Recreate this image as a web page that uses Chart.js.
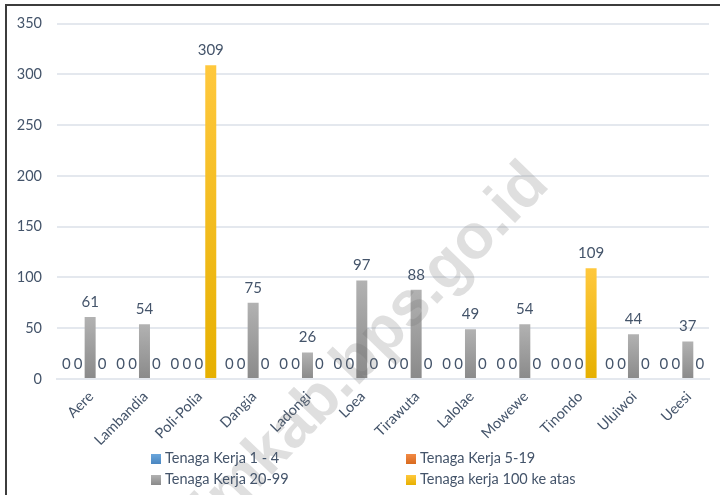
<!DOCTYPE html>
<html>
<head>
<meta charset="utf-8">
<script src="https://cdn.jsdelivr.net/npm/chart.js@4"></script>
<style>
  html, body { margin: 0; padding: 0; background: #fff; }
  #wrap { position: relative; width: 720px; height: 495px; overflow: hidden; font-family: Lato, "Noto Sans", sans-serif; }
  #frame { position: absolute; left: 5px; top: 4px; right: -2px; bottom: -2px; border-top: 2px solid #3c3c3c; border-left: 2px solid #3c3c3c; pointer-events: none; }
  .lg { position: absolute; font-size: 14.5px; color: #44546a; line-height: 16px; white-space: nowrap; }
  .lg i { display: inline-block; width: 10px; height: 10px; margin-right: 4px; vertical-align: -1px; }
</style>
</head>
<body>
<div id="wrap">
  <canvas id="chart" width="720" height="495"></canvas>
  <div id="frame"></div>
  <div id="legend"></div>
</div>
<script>
// data
const categories = ['Aere', 'Lambandia', 'Poli-Polia', 'Dangia', 'Ladongi', 'Loea', 'Tirawuta', 'Lalolae', 'Mowewe', 'Tinondo', 'Uluiwoi', 'Ueesi'];
const seriesNames = ['Tenaga Kerja 1 - 4', 'Tenaga Kerja 5-19', 'Tenaga Kerja 20-99', 'Tenaga kerja 100 ke atas'];
const kerja1to4 = [0, 0, 0, 0, 0, 0, 0, 0, 0, 0, 0, 0];
const kerja5to19 = [0, 0, 0, 0, 0, 0, 0, 0, 0, 0, 0, 0];
const kerja20to99 = [61, 54, 0, 75, 26, 97, 88, 49, 54, 0, 44, 37];
const kerja100up = [0, 0, 309, 0, 0, 0, 0, 0, 0, 109, 0, 0];
const yTicks = [0, 50, 100, 150, 200, 250, 300, 350];

const textColor = '#44546a';
const colorStops = [
  ['#6aa6dc', '#4a86c0'],
  ['#f28a45', '#d86a1e'],
  ['#b2b2b2', '#8a8a8a'],
  ['#ffc83d', '#e6b000']
];

function barGradient(idx) {
  return function(ctx) {
    const chart = ctx.chart;
    const area = chart.chartArea;
    const y = chart.scales.y;
    if (!area || !y || ctx.parsed === undefined) return colorStops[idx][0];
    const top = y.getPixelForValue(ctx.parsed.y);
    const bottom = y.getPixelForValue(0);
    if (bottom - top < 1) return colorStops[idx][0];
    const g = chart.ctx.createLinearGradient(0, top, 0, bottom);
    g.addColorStop(0, colorStops[idx][0]);
    g.addColorStop(1, colorStops[idx][1]);
    return g;
  };
}

const valueLabels = {
  id: 'valueLabels',
  afterDatasetsDraw(chart) {
    const c = chart.ctx;
    c.save();
    c.font = '15px Lato, "Noto Sans", sans-serif';
    c.fillStyle = textColor;
    c.textAlign = 'center';
    c.textBaseline = 'middle';
    chart.data.datasets.forEach((ds, i) => {
      chart.getDatasetMeta(i).data.forEach((bar, j) => {
        c.fillText(String(ds.data[j]), bar.x, bar.y - 15);
      });
    });
    c.restore();
  }
};

const watermark = {
  id: 'watermark',
  afterDraw(chart) {
    const c = chart.ctx;
    c.save();
    c.translate(551, 186);
    c.rotate(-46 * Math.PI / 180);
    c.font = 'bold 63px "Liberation Sans", Arial, sans-serif';
    c.fillStyle = 'rgba(110,110,110,0.22)';
    c.textAlign = 'right';
    c.textBaseline = 'alphabetic';
    c.fillText('koltimkab.bps.go.id', 0, 0);
    c.restore();
  }
};

const seriesData = [kerja1to4, kerja5to19, kerja20to99, kerja100up];

new Chart(document.getElementById('chart'), {
  type: 'bar',
  data: {
    labels: categories,
    datasets: seriesData.map((d, i) => ({
      label: seriesNames[i],
      data: d,
      backgroundColor: barGradient(i),
      borderWidth: 0,
      categoryPercentage: 0.88,
      barPercentage: 0.92
    }))
  },
  options: {
    responsive: false,
    animation: false,
    layout: { padding: { top: 23, right: 11, left: 0, bottom: 0 } },
    plugins: {
      legend: { display: false },
      tooltip: { enabled: false }
    },
    scales: {
      x: {
        grid: { display: false, drawTicks: false },
        border: { display: true, color: '#e4e8ee', width: 2 },
        ticks: {
          color: textColor,
          font: { family: 'Lato, "Noto Sans", sans-serif', size: 14.5 },
          maxRotation: 45,
          minRotation: 45,
          padding: 9,
          labelOffset: 7
        },
        afterFit(scale) { scale.height = 116; }
      },
      y: {
        min: 0,
        max: 350,
        afterBuildTicks(scale) { scale.ticks = yTicks.map(v => ({ value: v })); },
        grid: { color: '#e4e8ee', lineWidth: 2, drawTicks: false },
        border: { display: false },
        ticks: {
          color: textColor,
          font: { family: 'Lato, "Noto Sans", sans-serif', size: 14.5 },
          padding: 15
        },
        afterFit(scale) { scale.width = 57; }
      }
    }
  },
  plugins: [valueLabels, watermark]
});

// legend as two columns, like the reference
const legendPos = [[151, 450], [406, 450], [151, 471], [406, 471]];
const legendEl = document.getElementById('legend');
seriesNames.forEach((name, i) => {
  const d = document.createElement('div');
  d.className = 'lg';
  d.style.left = legendPos[i][0] + 'px';
  d.style.top = legendPos[i][1] + 'px';
  d.innerHTML = '<i style="background:linear-gradient(' + colorStops[i][0] + ',' + colorStops[i][1] + ')"></i>' + name;
  legendEl.appendChild(d);
});
</script>
</body>
</html>
